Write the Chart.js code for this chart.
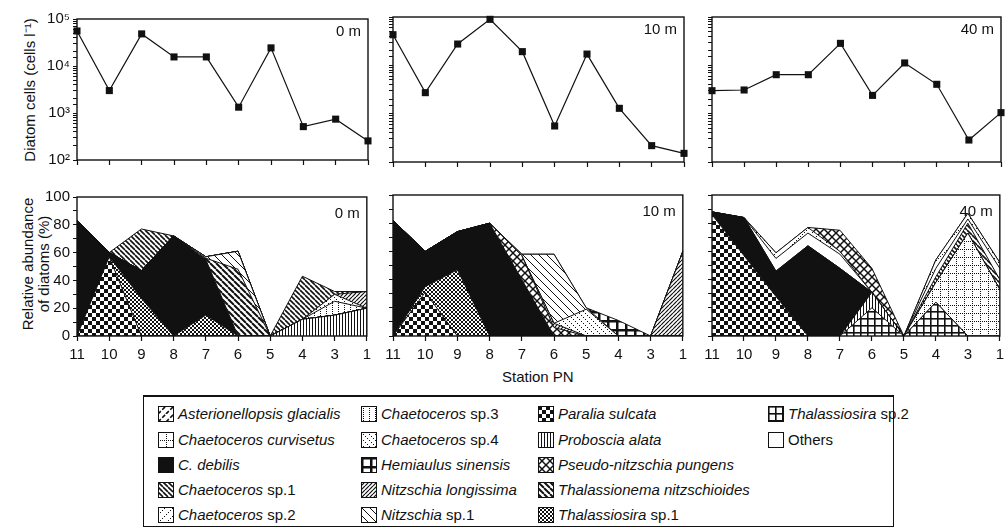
<!DOCTYPE html>
<html>
<head>
<meta charset="utf-8">
<script src="https://cdn.jsdelivr.net/npm/chart.js@4.4.1/dist/chart.umd.min.js"></script>
<style>
  body { margin: 0; background: #fff; width: 1007px; height: 531px; position: relative; overflow: hidden;
         font-family: "Liberation Sans", Arial, sans-serif; color: #111; }
  canvas.panel { position: absolute; }
  .rot { position: absolute; transform: rotate(-90deg); text-align: center; font-size: 15px;
         white-space: nowrap; line-height: 16px; }
  .lbl { position: absolute; font-size: 15px; white-space: nowrap; }
  #legend { position: absolute; left: 143px; top: 395px; width: 751px; height: 132px;
            border: 1px solid #111; border-top-width: 2px; box-sizing: border-box; }
  .item { position: absolute; font-size: 15px; white-space: nowrap; line-height: 17px; }
  .item canvas { position: absolute; }
</style>
</head>
<body>
<div class="rot" style="left:-61px;top:81px;width:184px;height:18px;">Diatom cells (cells l⁻¹)</div>
<div class="rot" style="left:-31px;top:248px;width:134px;height:32px;">Relative abundance<br>of diatoms (%)</div>
<div class="lbl" style="left:502px;top:368px;">Station PN</div>
<div id="legend"></div>

<script>
// ---- data ----
const stations = ['11', '10', '9', '8', '7', '6', '5', '4', '3', '1'];
const depths = ['0 m', '10 m', '40 m'];
const logTickLabels = { 100: '10²', 1000: '10³', 10000: '10⁴', 100000: '10⁵' };

// diatom cells l-1 (log axis)
const cells0m  = [55600, 3000, 48200, 15600, 15600, 1330, 24300, 513, 740, 255];
const cells10m = [43000, 2720, 27600, 89500, 19200, 556, 17100, 1290, 218, 151];
const cells40m = [2990, 3090, 6400, 6400, 28500, 2390, 11200, 4050, 285, 1050];

// relative abundance (%), stacked bottom -> top
const abund0m = {
  proboscia:     [0, 0, 0, 0, 0, 0, 0, 12, 15, 20],
  paralia:       [0, 57, 0, 0, 0, 0, 0, 0, 0, 0],
  thal1:         [0, 0, 27, 0, 15, 0, 0, 0, 0, 0],
  debilis:       [83, 3, 20, 72, 40, 0, 0, 0, 0, 0],
  thalassionema: [0, 0, 0, 0, 1, 48, 0, 0, 0, 0],
  nsp1:          [0, 0, 0, 0, 1, 13, 0, 0, 0, 0],
  sp3:           [0, 0, 0, 0, 0, 0, 0, 0, 10, 0],
  sp4:           [0, 0, 0, 0, 0, 0, 0, 0, 5, 0],
  nlong:         [0, 0, 0, 0, 0, 0, 0, 0, 0, 12],
  sp1:           [0, 0, 30, 0, 0, 0, 0, 31, 2, 0]
};
const abund10m = {
  paralia: [0, 31, 0, 0, 0, 0, 0, 0, 0, 0],
  thal1:   [0, 4, 47, 0, 0, 0, 0, 0, 0, 0],
  debilis: [82, 25, 27, 80, 40, 0, 0, 0, 0, 0],
  pseudo:  [0, 0, 0, 0, 17, 6, 0, 0, 0, 0],
  nlong:   [0, 0, 0, 0, 0, 3, 0, 0, 0, 60],
  sp4:     [0, 0, 0, 0, 0, 0, 19, 0, 0, 0],
  nsp1:    [0, 0, 0, 0, 1, 49, 1, 0, 0, 0],
  hemi:    [0, 0, 0, 0, 0, 0, 0, 11, 0, 0]
};
const abund40m = {
  thal2:      [0, 0, 0, 0, 0, 20, 0, 24, 0, 0],
  proboscia:  [0, 0, 0, 0, 0, 11, 0, 0, 0, 0],
  curvisetus: [0, 0, 0, 0, 0, 0, 0, 14, 73, 33],
  paralia:    [86, 57, 28, 0, 0, 0, 0, 0, 0, 0],
  debilis:    [2, 27, 18, 64, 48, 0, 0, 0, 0, 0],
  sp1:        [0, 0, 0, 0, 0, 0, 0, 4, 7, 7],
  others:     [0, 0, 9, 9, 10, 0, 0, 6, 3, 8],
  sp2:        [0, 0, 4, 4, 2, 0, 0, 6, 4, 4],
  pseudo:     [0, 0, 0, 0, 15, 17, 0, 0, 0, 0]
};

// legend, column by column
const legendItems = [
  ['aster', '<i>Asterionellopsis glacialis</i>'],
  ['curvisetus', '<i>Chaetoceros curvisetus</i>'],
  ['debilis', '<i>C. debilis</i>'],
  ['sp1', '<i>Chaetoceros</i> sp.1'],
  ['sp2', '<i>Chaetoceros</i> sp.2'],
  ['sp3', '<i>Chaetoceros</i> sp.3'],
  ['sp4', '<i>Chaetoceros</i> sp.4'],
  ['hemi', '<i>Hemiaulus sinensis</i>'],
  ['nlong', '<i>Nitzschia longissima</i>'],
  ['nsp1', '<i>Nitzschia</i> sp.1'],
  ['paralia', '<i>Paralia sulcata</i>'],
  ['proboscia', '<i>Proboscia alata</i>'],
  ['pseudo', '<i>Pseudo-nitzschia pungens</i>'],
  ['thalassionema', '<i>Thalassionema nitzschioides</i>'],
  ['thal1', '<i>Thalassiosira</i> sp.1'],
  ['thal2', '<i>Thalassiosira</i> sp.2'],
  ['others', 'Others']
];

// ---- hatch patterns ----
const INK = '#111';
function tile(w, h, draw) {
  const c = document.createElement('canvas');
  c.width = w; c.height = h;
  const g = c.getContext('2d');
  g.fillStyle = '#fff'; g.fillRect(0, 0, w, h);
  g.fillStyle = INK; g.strokeStyle = INK;
  draw(g, w, h);
  return c;
}
function diag(g, n, dir, lw, dash) {
  g.lineWidth = lw;
  if (dash) g.setLineDash(dash);
  for (const k of [-n, 0, n]) {
    g.beginPath();
    if (dir > 0) { g.moveTo(k, n); g.lineTo(k + n, 0); }   // "/"
    else { g.moveTo(k, 0); g.lineTo(k + n, n); }           // "\"
    g.stroke();
  }
}
function dotDiag(g, n, dir, step) {
  for (let i = 0; i < n; i += step) g.fillRect(i, dir > 0 ? n - 1 - i : i, 1, 1);
}
const tiles = {
  aster: tile(8, 8, (g, n) => diag(g, n, 1, 1.6, [4, 2])),
  curvisetus: tile(8, 8, g => { for (let i = 0; i < 8; i += 2) { g.fillRect(i, 0, 1, 1); g.fillRect(0, i, 1, 1); } }),
  debilis: tile(4, 4, g => g.fillRect(0, 0, 4, 4)),
  sp1: tile(5, 5, (g, n) => diag(g, n, -1, 1.6)),
  sp2: tile(8, 8, (g, n) => dotDiag(g, n, 1, 2)),
  sp3: tile(6, 4, g => { g.fillRect(2, 0, 1, 1); g.fillRect(2, 2, 1, 1); }),
  sp4: tile(6, 6, (g, n) => dotDiag(g, n, -1, 2)),
  hemi: tile(9, 9, g => { g.fillRect(0, 0, 9, 2.5); g.fillRect(0, 0, 2.5, 9); }),
  nlong: tile(4, 4, (g, n) => diag(g, n, 1, 1.2)),
  nsp1: tile(8, 8, (g, n) => diag(g, n, -1, 1)),
  paralia: tile(8, 8, g => { g.fillRect(0, 0, 4, 4); g.fillRect(4, 4, 4, 4); }),
  proboscia: tile(3, 2, g => g.fillRect(0, 0, 1, 2)),
  pseudo: tile(8, 8, (g, n) => { diag(g, n, 1, 1.5); diag(g, n, -1, 1.5); }),
  thalassionema: tile(6, 6, (g, n) => diag(g, n, -1, 2)),
  thal1: tile(4, 4, g => { g.fillRect(0, 0, 2, 2); g.fillRect(2, 2, 2, 2); }),
  thal2: tile(7, 7, g => { g.fillRect(0, 0, 7, 1.6); g.fillRect(0, 0, 1.6, 7); }),
  others: tile(4, 4, () => {})
};
function pattern(ctx, key) { return ctx.createPattern(tiles[key], 'repeat'); }

// ---- chart helpers ----
Chart.defaults.font.family = '"Liberation Sans", Arial, sans-serif';
Chart.defaults.font.size = 15;
Chart.defaults.color = INK;

const framePlugin = {
  id: 'frame',
  afterDraw(chart, args, opts) {
    const { ctx, chartArea: a } = chart;
    ctx.save();
    ctx.strokeStyle = INK; ctx.lineWidth = 1.4;
    ctx.strokeRect(a.left, a.top, a.right - a.left, a.bottom - a.top);
    ctx.fillStyle = INK;
    ctx.font = '15px "Liberation Sans", Arial';
    ctx.textAlign = 'right'; ctx.textBaseline = 'middle';
    ctx.fillText(opts.label, a.right - 7, a.top + opts.dy);
    ctx.restore();
  }
};

const PT = 10, PR = 8;
function makeCanvas(area, yW, xH) {
  const c = document.createElement('canvas');
  c.className = 'panel';
  c.width = (area.r - area.l) + yW + PR;
  c.height = (area.b - area.t) + PT + xH;
  c.style.left = (area.l - yW) + 'px';
  c.style.top = (area.t - PT) + 'px';
  document.body.appendChild(c);
  return c;
}

function xScale(showLabels, xH) {
  return {
    type: 'category', offset: false,
    grid: { drawOnChartArea: false, tickLength: 5, color: INK, tickWidth: 1.2 },
    border: { display: false },
    ticks: { display: showLabels, autoSkip: false, maxRotation: 0, padding: 5, color: INK },
    afterFit: s => { s.height = xH; }
  };
}

const panelX = [[77, 368], [393, 684], [712, 1001]];

// top row: cells (log)
[cells0m, cells10m, cells40m].forEach((vals, i) => {
  const area = { l: panelX[i][0], r: panelX[i][1], t: 17, b: 162 };
  const yW = i === 0 ? 77 : 20;
  const c = makeCanvas(area, yW, 10);
  new Chart(c, {
    type: 'line',
    data: {
      labels: stations,
      datasets: [{
        data: vals, borderColor: INK, borderWidth: 1.2, tension: 0,
        pointStyle: 'rect', pointRadius: 5, pointBackgroundColor: INK, pointBorderColor: INK,
        pointBorderWidth: 0, clip: false
      }]
    },
    options: {
      responsive: false, animation: false, devicePixelRatio: 1,
      layout: { padding: { top: PT, right: PR, left: 0, bottom: 0 } },
      plugins: { legend: { display: false }, tooltip: { enabled: false }, frame: { label: depths[i], dy: 13 } },
      scales: {
        x: xScale(false, 10),
        y: {
          type: 'logarithmic', min: 100, max: 100000,
          grid: { drawOnChartArea: false, tickLength: 4, color: INK },
          border: { display: false },
          ticks: {
            display: i === 0, autoSkip: false, padding: 3, color: INK,
            callback: v => logTickLabels[v] || ''
          },
          afterFit: s => { s.width = yW; }
        }
      }
    },
    plugins: [framePlugin]
  });
});

// bottom row: relative abundance (stacked areas)
[abund0m, abund10m, abund40m].forEach((set, i) => {
  const area = { l: panelX[i][0], r: panelX[i][1], t: 195, b: 336 };
  const yW = i === 0 ? 77 : 20;
  const c = makeCanvas(area, yW, 30);
  const ctx = c.getContext('2d');
  const datasets = Object.keys(set).map((key, k) => ({
    data: set[key], fill: k === 0 ? 'origin' : '-1',
    backgroundColor: pattern(ctx, key), borderColor: INK, borderWidth: 1,
    pointRadius: 0, tension: 0
  }));
  new Chart(c, {
    type: 'line',
    data: { labels: stations, datasets },
    options: {
      responsive: false, animation: false, devicePixelRatio: 1,
      layout: { padding: { top: PT, right: PR, left: 0, bottom: 0 } },
      plugins: { legend: { display: false }, tooltip: { enabled: false }, frame: { label: depths[i], dy: 17 } },
      scales: {
        x: xScale(true, 30),
        y: {
          stacked: true, min: 0, max: 100,
          grid: { drawOnChartArea: false, tickLength: 4, color: INK },
          border: { display: false },
          ticks: {
            display: i === 0, stepSize: 10, autoSkip: false, padding: 3, color: INK,
            callback: v => (v % 20 === 0 ? String(v) : '')
          },
          afterFit: s => { s.width = yW; }
        }
      }
    },
    plugins: [framePlugin]
  });
});

// legend
const legendEl = document.getElementById('legend');
const colX = [14, 217, 394, 624];
const rowY = [17, 43, 68, 93, 118];
legendItems.forEach(([key, html], n) => {
  const col = Math.floor(n / 5), row = n % 5;
  const d = document.createElement('div');
  d.className = 'item';
  d.style.left = colX[col] + 'px';
  d.style.top = (rowY[row] - 9) + 'px';
  const sw = document.createElement('canvas');
  sw.width = 16; sw.height = 16;
  sw.style.left = '0px'; sw.style.top = '1px';
  const g = sw.getContext('2d');
  g.fillStyle = pattern(g, key); g.fillRect(0, 0, 16, 16);
  g.strokeStyle = INK; g.lineWidth = 1; g.strokeRect(0.5, 0.5, 15, 15);
  d.appendChild(sw);
  const t = document.createElement('span');
  t.innerHTML = html;
  t.style.marginLeft = '20px';
  d.appendChild(t);
  legendEl.appendChild(d);
});
</script>
</body>
</html>
